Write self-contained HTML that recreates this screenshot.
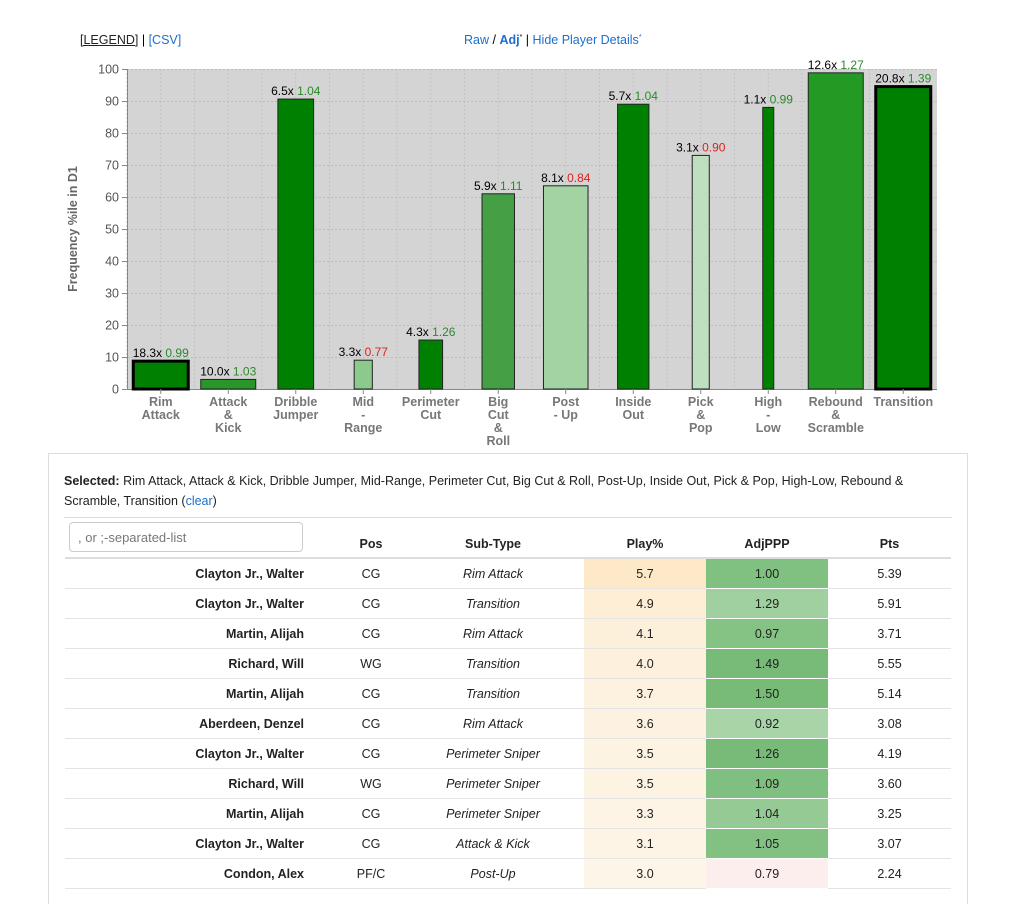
<!DOCTYPE html>
<html><head><meta charset="utf-8">
<style>
body{margin:0;background:#fff;font-family:"Liberation Sans",sans-serif;width:1022px;height:889px;overflow:hidden;position:relative}
a{color:#1a6fd0;text-decoration:none}
.top{position:absolute;top:33px;font-size:12.5px}
#panel{position:absolute;left:48px;top:453px;width:918px;height:450px;border:1px solid #ddd;border-bottom:none}
#sel{position:absolute;left:15px;top:17px;width:870px;font-size:12.5px;line-height:20px;color:#222}
#sep{position:absolute;left:15px;right:15px;top:63px;border-top:1px solid #ddd}
#inp{position:absolute;left:20px;top:68px;width:234px;height:30px;border:1px solid #ccc;border-radius:4px;font-size:13px;color:#777;box-sizing:border-box;padding:7px 8px}
table{position:absolute;left:16px;top:67px;border-collapse:collapse;font-size:12.5px;color:#222;table-layout:fixed}
th{height:30px;font-weight:bold;text-align:center;border-bottom:2px solid #ddd;vertical-align:bottom;padding:0 0 6px 0}
td{height:29px;text-align:center;border-bottom:1px solid #e4e4e4;padding:0}
td.n{text-align:right;font-weight:bold;padding-right:8px}
td.s{font-style:italic;padding-right:28px}
th.s{padding-right:28px}
</style></head><body>
<div class="top" style="left:80px"><a style="color:#222;text-decoration:underline">[LEGEND]</a> | <a>[CSV]</a></div>
<div class="top" style="left:464px"><a>Raw</a> / <a style="font-weight:bold">Adj</a><sup style="font-size:7px">*</sup> | <a>Hide Player Details</a><sup style="font-size:7px;color:#1a6fd0">*</sup></div>
<svg id="chart" width="1022" height="445" style="position:absolute;left:0;top:0" font-family="Liberation Sans, sans-serif"></svg>
<div id="panel">
<div id="sel"><b>Selected:</b> Rim Attack, Attack &amp; Kick, Dribble Jumper, Mid-Range, Perimeter Cut, Big Cut &amp; Roll, Post-Up, Inside Out, Pick &amp; Pop, High-Low, Rebound &amp; Scramble, Transition (<a>clear</a>)</div>
<div id="sep"></div>
<table>
<colgroup><col style="width:247px"><col style="width:118px"><col style="width:154px"><col style="width:122px"><col style="width:122px"><col style="width:123px"></colgroup>
<thead><tr><th></th><th>Pos</th><th class="s">Sub-Type</th><th>Play%</th><th>AdjPPP</th><th>Pts</th></tr></thead>
<tbody id="tb"></tbody></table>
<div id="inp">, or ;-separated-list</div>
</div>
<script>
const categories=["Rim Attack","Attack & Kick","Dribble Jumper","Mid-Range","Perimeter Cut","Big Cut & Roll","Post-Up","Inside Out","Pick & Pop","High-Low","Rebound & Scramble","Transition"];
const labelLines=[["Rim","Attack"],["Attack","&","Kick"],["Dribble","Jumper"],["Mid","-","Range"],["Perimeter","Cut"],["Big","Cut","&","Roll"],["Post","- Up"],["Inside","Out"],["Pick","&","Pop"],["High","-","Low"],["Rebound","&","Scramble"],["Transition"]];
const pctile=[8.7,3.0,90.6,9.0,15.3,61.0,63.5,89.0,73.0,88.0,98.8,94.5];
const freq=[18.3,10.0,6.5,3.3,4.3,5.9,8.1,5.7,3.1,1.1,12.6,20.8];
const ppp=["0.99","1.03","1.04","0.77","1.26","1.11","0.84","1.04","0.90","0.99","1.27","1.39"];
const pppGood=[true,true,true,false,true,true,false,true,false,true,true,true];
const barFill=["#008000","#2a962a","#008000","#8cc98c","#008000","#45a045","#a3d3a3","#008000","#bfe0bf","#008000","#239a23","#008000"];
const thick=[true,false,false,false,false,false,false,false,false,false,false,true];
const yTicks=[0,10,20,30,40,50,60,70,80,90,100];

const NS="http://www.w3.org/2000/svg",svg=document.getElementById('chart');
const L=127,R=937,T=69,B=389,band=(R-L)/categories.length;
const y=v=>B-(v/100)*(B-T), xc=i=>L+band*(i+0.5);
function mk(t,a,p){const e=document.createElementNS(NS,t);for(const k in a)e.setAttribute(k,a[k]);(p||svg).appendChild(e);return e;}
let bg=mk('rect',{x:L,y:T,width:R-L,height:B-T,fill:'#d4d4d4'});


for(let i=0;i<categories.length*2;i++){mk('line',{x1:L+band*i/2,x2:L+band*i/2,y1:T,y2:B,stroke:'#c2c2c2','stroke-dasharray':'2,2'});}
yTicks.forEach(v=>{mk('line',{x1:L,x2:R,y1:y(v)+0.5,y2:y(v)+0.5,stroke:'#bdbdbd','stroke-dasharray':'2,2'});
 mk('line',{x1:L-5,x2:L,y1:y(v)+0.5,y2:y(v)+0.5,stroke:'#888'});
 const t=mk('text',{x:L-8,y:y(v)+4.5,'text-anchor':'end','font-size':12.5,fill:'#555'});t.textContent=v;
 
 });
mk('line',{x1:L+0.5,x2:L+0.5,y1:T,y2:B,stroke:'#888'});
mk('line',{x1:L,x2:R,y1:B+0.5,y2:B+0.5,stroke:'#888'});
let yt=mk('text',{x:77,y:(T+B)/2,'text-anchor':'middle','font-size':12.5,'font-weight':'bold',fill:'#666',transform:`rotate(-90 77 ${(T+B)/2})`});
yt.textContent='Frequency %ile in D1';


categories.forEach((c,i)=>{
 const w=Math.max(11,55*Math.min(1,freq[i]/10));
 const sw=thick[i]?3:1;
 const r=mk('rect',{x:xc(i)-w/2,y:y(pctile[i]),width:w,height:B-y(pctile[i]),fill:barFill[i],stroke:thick[i]?'#000':'#222','stroke-width':sw});
 
 
 const t=mk('text',{x:xc(i),y:y(pctile[i])-4,'text-anchor':'middle','font-size':12});
 const a=mk('tspan',{fill:'#000'},t);a.textContent=freq[i].toFixed(1)+'x ';
 const b=mk('tspan',{fill:pppGood[i]?'#2a8a2a':'#e02020'},t);b.textContent=ppp[i];
 
 
 mk('line',{x1:xc(i),x2:xc(i),y1:B,y2:B+5,stroke:'#888'});
 const xl=mk('text',{'text-anchor':'middle','font-size':12.5,'font-weight':'bold',fill:'#777'});
 labelLines[i].forEach((ln,j)=>{const s=mk('tspan',{x:xc(i),y:B+17+j*13},xl);s.textContent=ln;});
 
 
});
const names=["Clayton Jr., Walter","Clayton Jr., Walter","Martin, Alijah","Richard, Will","Martin, Alijah","Aberdeen, Denzel","Clayton Jr., Walter","Richard, Will","Martin, Alijah","Clayton Jr., Walter","Condon, Alex"];
const pos=["CG","CG","CG","WG","CG","CG","CG","WG","CG","CG","PF/C"];
const sub=["Rim Attack","Transition","Rim Attack","Transition","Transition","Rim Attack","Perimeter Sniper","Perimeter Sniper","Perimeter Sniper","Attack & Kick","Post-Up"];
const play=["5.7","4.9","4.1","4.0","3.7","3.6","3.5","3.5","3.3","3.1","3.0"];
const adj=["1.00","1.29","0.97","1.49","1.50","0.92","1.26","1.09","1.04","1.05","0.79"];
const pts=["5.39","5.91","3.71","5.55","5.14","3.08","4.19","3.60","3.25","3.07","2.24"];
const playBg=["#fde8c8","#feeed5","#fdf0db","#fdf0dc","#fdf2e0","#fdf2e2","#fdf3e3","#fdf3e3","#fdf4e5","#fdf4e6","#fdf5e7"];
const adjBg=["#80c080","#a0d0a0","#85c385","#78bb78","#77bb77","#a8d4a8","#78bb78","#7fbf7f","#95ca95","#82c182","#fdeeee"];
const tb=document.getElementById('tb');
names.forEach((n,i)=>{const tr=document.createElement('tr');
 
 
 tr.innerHTML=`<td class="n">${n}</td><td>${pos[i]}</td><td class="s">${sub[i].replace('&','&amp;')}</td><td style="background:${playBg[i]}">${play[i]}</td><td style="background:${adjBg[i]};border-bottom-color:#fff">${adj[i]}</td><td>${pts[i]}</td>`;
 tb.appendChild(tr);});
</script>
</body></html>
